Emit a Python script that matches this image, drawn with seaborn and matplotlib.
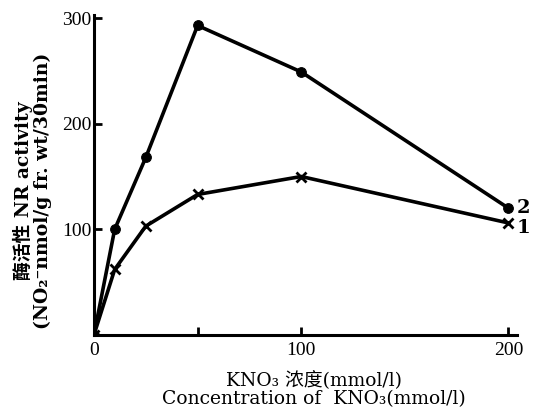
import matplotlib
matplotlib.use("Agg")
import matplotlib.pyplot as plt
import seaborn as sns
import pandas as pd

# data
conc = [0, 10, 25, 50, 100, 200]
series2 = [0, 100, 168, 293, 249, 120]   # filled circles, curve "2"
series1 = [0, 62, 103, 133, 150, 106]    # crosses, curve "1"
x_ticks = [0, 50, 100, 200]
x_ticklabels = ["0", "", "100", "200"]
y_ticks = [100, 200, 300]
y_ticklabels = ["100", "200", "300"]

sns.set_style("ticks")
fam = ["DejaVu Serif", "Noto Sans CJK SC"]
tick_fam = ["Liberation Serif", "DejaVu Serif"]
plt.rcParams["font.family"] = fam
plt.rcParams["text.color"] = "black"
plt.rcParams["axes.labelcolor"] = "black"
plt.rcParams["xtick.color"] = "black"
plt.rcParams["ytick.color"] = "black"

df = pd.DataFrame({"conc": conc + conc,
                   "act": series2 + series1,
                   "curve": ["2"] * len(conc) + ["1"] * len(conc)})

fig = plt.figure(figsize=(5.4, 4.15), dpi=100)
ax = fig.add_axes([0.174, 0.193, 0.783, 0.771])

sns.lineplot(data=df[df.curve == "2"], x="conc", y="act", color="black",
             linewidth=2.6, marker="o", markersize=7, markeredgecolor="black",
             ax=ax)
sns.lineplot(data=df[df.curve == "1"], x="conc", y="act", color="black",
             linewidth=2.6, marker="x", markersize=7, markeredgewidth=2,
             markeredgecolor="black", markerfacecolor="black", ax=ax)

ax.set_xlim(0, 204)
ax.set_ylim(0, 303)
ax.set_xticks(x_ticks)
ax.set_xticklabels(x_ticklabels, fontsize=14, family=tick_fam, color="black")
ax.set_yticks(y_ticks)
ax.set_yticklabels(y_ticklabels, fontsize=14, family=tick_fam, color="black")
ax.tick_params(axis="both", direction="in", length=6, width=2, color="black",
               labelcolor="black")
ax.tick_params(axis="x", pad=5)
ax.tick_params(axis="y", pad=2)
for s in ["top", "right"]:
    ax.spines[s].set_visible(False)
for s in ["left", "bottom"]:
    ax.spines[s].set_linewidth(2.2)
    ax.spines[s].set_color("black")

ax.set_xlabel("KNO\u2083 浓度(mmol/l)\nConcentration of  KNO\u2083(mmol/l)",
              fontsize=13.5, family=fam, linespacing=1.05, labelpad=6,
              color="black")
ax.set_ylabel("酶活性 NR activity\n(NO\u2082\u207bnmol/g fr. wt/30min)",
              fontsize=13.5, family=fam, fontweight="bold", linespacing=1.05,
              color="black")
ax.yaxis.set_label_coords(-0.1, 0.45)
ax.xaxis.set_label_coords(0.52, -0.112)
ax.xaxis.label.set_va("top")

ax.text(conc[-1] + 4, series2[-1], "2", fontsize=14, fontweight="bold",
        va="center", ha="left", clip_on=False, color="black")
ax.text(conc[-1] + 4, series1[-1] - 5, "1", fontsize=14, fontweight="bold",
        va="center", ha="left", clip_on=False, color="black")

fig.savefig("out.png", dpi=100)
